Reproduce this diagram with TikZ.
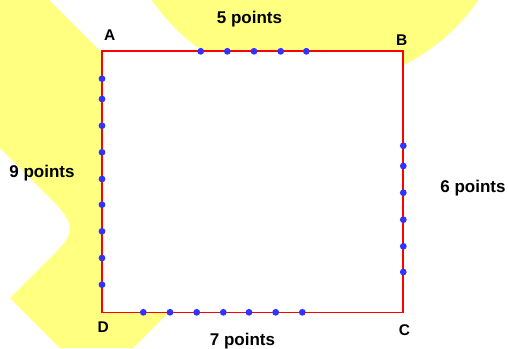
\documentclass[tikz,border=0pt]{standalone}
\usepackage{fontspec}
\setmainfont{Liberation Sans}
\tikzset{
  pdot/.style={circle, fill=pcol, inner sep=0, minimum size=6.8pt},
  side line/.style={draw=rcol, line width=1.7pt, fill=white},
  corner lbl/.style={font=\fontsize{15.5}{18}\selectfont\bfseries, anchor=base},
  count lbl/.style={font=\fontsize{17}{20}\selectfont\bfseries, anchor=base},
}
\definecolor{ycol}{RGB}{255,255,128}
\definecolor{rcol}{RGB}{255,0,0}
\definecolor{pcol}{RGB}{51,51,255}

\begin{document}
\begin{tikzpicture}[x=1pt, y=-1pt]
        % canvas = 508 x 348, origin top-left, y pointing down
        % square: x = 101.7 .. 403.3,  y = 51 .. 312.5
        \useasboundingbox (0,0) rectangle (508,348);

        % ---- yellow backdrop ----
        \fill[ycol] (315,-112) circle[radius=198pt];
        \fill[ycol] (0,0) -- (49,0) -- (265,216) -- (133,348) -- (60,348)
          -- (10,298) -- (58,250) .. controls (75,233) and (74,222) .. (52,200)
          -- (0,148) -- cycle;

        % ---- square ABCD ----
        \coordinate (A) at (101.7,51);
        \coordinate (B) at (403.3,51);
        \coordinate (C) at (403.3,312.5);
        \coordinate (D) at (101.7,312.5);
        \draw[side line] (A) -- (B) -- (C) -- (D) -- cycle;

        % ---- points on the sides ----
        \foreach \xx [count=\i] in {200.7,227.3,254,280.7,306.3} {
          \node[pdot] (top\i) at (\xx,51.3) {};
        }
        \foreach \yy [count=\i] in {78.7,99,125.7,152.3,179,204.7,231.3,258,284.7} {
          \node[pdot] (left\i) at (102,\yy) {};
        }
        \foreach \yy [count=\i] in {145.7,166,192.7,219.7,246.3,272} {
          \node[pdot] (right\i) at (403.3,\yy) {};
        }
        \foreach \xx [count=\i] in {143.3,170,196.7,223.3,249,275.7,302.3} {
          \node[pdot] (bottom\i) at (\xx,312.3) {};
        }

        % ---- corner letters ----
        \node[corner lbl] (lblA) at (109.7,40) {A};
        \node[corner lbl] (lblB) at (401.8,45.7) {B};
        \node[corner lbl] (lblC) at (404.5,335) {C};
        \node[corner lbl] (lblD) at (103.3,332.3) {D};

        % ---- point counts ----
        \node[count lbl] (lblTop)    at (249.5,23.7)  {5 points};
        \node[count lbl] (lblLeft)   at (42,177.5)    {9 points};
        \node[count lbl] (lblRight)  at (473,192.9)   {6 points};
        \node[count lbl] (lblBottom) at (242.5,345.5) {7 points};
      \end{tikzpicture}
\end{document}
